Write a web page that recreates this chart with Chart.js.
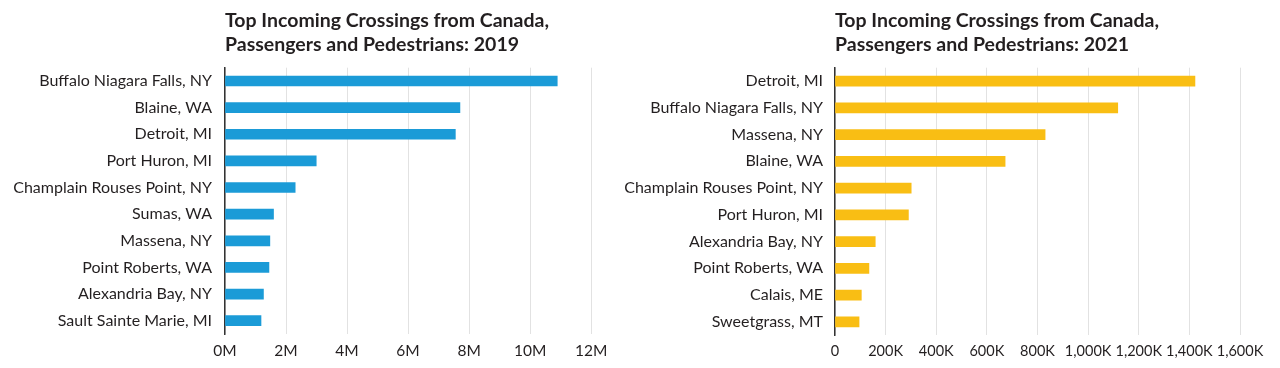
<!DOCTYPE html>
<html>
<head>
<meta charset="utf-8">
<script src="https://cdn.jsdelivr.net/npm/chart.js@4"></script>
<style>
  html, body { margin: 0; padding: 0; background: #fff; }
  #wrap { position: relative; width: 1280px; height: 368px; }
  #c1 { position: absolute; left: 0; top: 0; }
  #c2 { position: absolute; left: 615px; top: 0; }
</style>
</head>
<body>
<div id="wrap">
  <canvas id="c1" width="615" height="368"></canvas>
  <canvas id="c2" width="665" height="368"></canvas>
</div>
<script>
// Data
const crossings2019 = ["Buffalo Niagara Falls, NY", "Blaine, WA", "Detroit, MI", "Port Huron, MI", "Champlain Rouses Point, NY", "Sumas, WA", "Massena, NY", "Point Roberts, WA", "Alexandria Bay, NY", "Sault Sainte Marie, MI"];
const values2019 = [10890000, 7700000, 7550000, 2990000, 2300000, 1590000, 1470000, 1440000, 1260000, 1180000];
const crossings2021 = ["Detroit, MI", "Buffalo Niagara Falls, NY", "Massena, NY", "Blaine, WA", "Champlain Rouses Point, NY", "Port Huron, MI", "Alexandria Bay, NY", "Point Roberts, WA", "Calais, ME", "Sweetgrass, MT"];
const values2021 = [1422000, 1117000, 830000, 672000, 301000, 290000, 159000, 134000, 104000, 95000];
const title2019 = ["Top Incoming Crossings from Canada,", "Passengers and Pedestrians: 2019"];
const title2021 = ["Top Incoming Crossings from Canada,", "Passengers and Pedestrians: 2021"];

const FONT = "Lato, 'Open Sans', sans-serif";
const TEXT = "#231f20";

function makeChart(id, labels, values, title, color, axisWidth, padRight, xMax, xStep, fmt, labelPad, xFont) {
  return new Chart(document.getElementById(id), {
    type: 'bar',
    data: {
      labels: labels,
      datasets: [{
        data: values,
        backgroundColor: color,
        borderWidth: 0,
        barThickness: 10
      }]
    },
    options: {
      indexAxis: 'y',
      responsive: false,
      animation: false,
      events: [],
      layout: { padding: { left: 0, right: padRight, top: 0, bottom: 0 } },
      plugins: {
        legend: { display: false },
        tooltip: { enabled: false },
        title: {
          display: true,
          text: title,
          align: 'start',
          fullSize: false,
          color: TEXT,
          font: { family: FONT, size: 19.5, weight: 'bold', lineHeight: '24px' },
          padding: { top: 9, bottom: 10.7 }
        }
      },
      scales: {
        x: {
          min: 0,
          max: xMax,
          ticks: {
            stepSize: xStep,
            color: TEXT,
            padding: 7.7,
            maxRotation: 0,
            autoSkip: false,
            font: { family: FONT, size: xFont },
            callback: fmt
          },
          grid: { color: '#e2e2e2', lineWidth: 1, drawTicks: false },
          border: { display: false }
        },
        y: {
          afterFit: function(s) { s.width = axisWidth; },
          ticks: {
            color: TEXT,
            padding: labelPad,
            autoSkip: false,
            font: { family: FONT, size: 16 }
          },
          grid: { display: false, drawTicks: false },
          border: { display: true, color: '#333333', width: 1.5 }
        }
      }
    }
  });
}

makeChart('c1', crossings2019, values2019, title2019, '#1b9bd7', 225, 16, 12000000, 2000000,
  function(v) { return (v / 1000000) + 'M'; }, 13, 15.5);
makeChart('c2', crossings2021, values2021, title2021, '#f9be14', 220, 40, 1600000, 200000,
  function(v) { return v === 0 ? '0' : (v / 1000).toLocaleString('en-US') + 'K'; }, 12, 14.5);
</script>
</body>
</html>
